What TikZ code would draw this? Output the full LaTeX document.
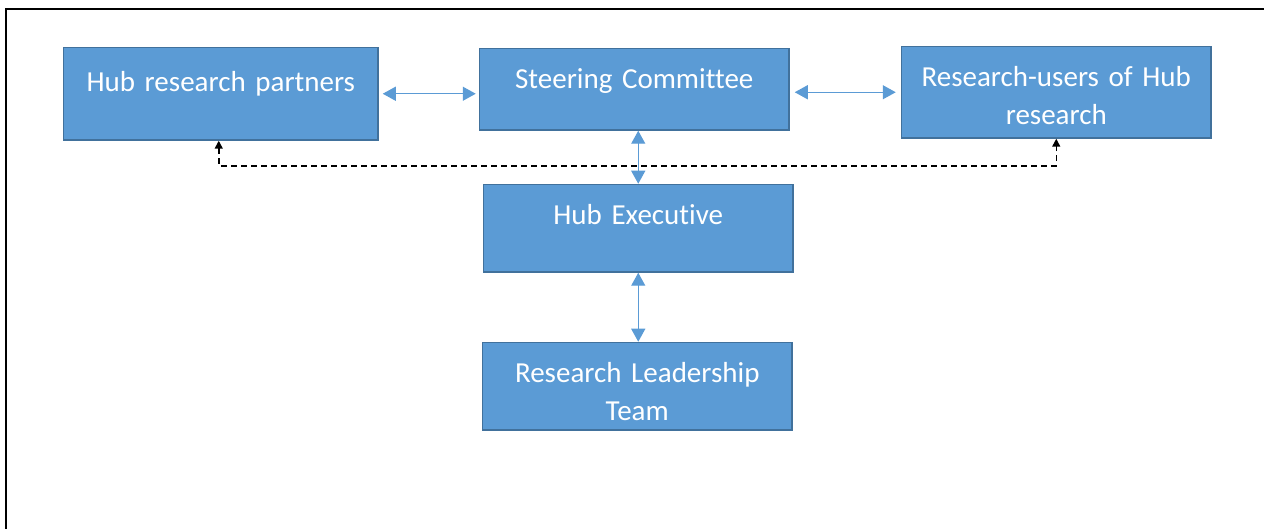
\documentclass[tikz,border=0pt]{standalone}
\usepackage{fontspec}
\setmainfont{Carlito}[RawFeature={-liga;-clig;-calt;-dlig}]
\usepackage{xcolor}
\usetikzlibrary{positioning,calc,arrows.meta}
\definecolor{hubfill}{HTML}{5B9BD5}
\definecolor{hubline}{HTML}{41719C}
\tikzset{
  figfont/.style={font=\fontsize{29}{38}\selectfont},
  hubbox/.style={draw=hubline, line width=1.5pt, fill=hubfill, text=white, align=center,
    text width=309.5pt, inner xsep=0pt, inner ysep=0pt, text height=40pt, anchor=north west},
  hubarrow/.style={{Triangle[length=13pt,width=14pt]}-{Triangle[length=13pt,width=14pt]},
    draw=hubfill, line width=1.3pt},
  dasharrow/.style={{Triangle[length=8pt,width=8pt]}-{Triangle[length=8pt,width=8pt]},
    dash pattern=on 6pt off 4pt, line width=1.5pt},
}

\begin{document}
\begin{tikzpicture}[figfont, x=1pt, y=-1pt]
  \useasboundingbox (0,0) rectangle (1264,529);
  % Frame
  \draw[line width=2.5pt] (6,529) -- (6,9) -- (1264,9);

  % Boxes
  \node[hubbox, text width=314.5pt, text height=44.5pt, text depth=48pt] (partners) at (62.75,46.75) {Hub research partners};
  \node[hubbox, text depth=41.5pt] (steer) at (478.75,47.75) {Steering Committee};
  \node[hubbox, text depth=51.5pt] (users) at (900.75,45.75) {Research-users of Hub\\research};
  \node[hubbox, text depth=47.5pt] (exec) at (482.75,183.75) {Hub Executive};
  \node[hubbox, text depth=47.5pt] (rlt) at (481.75,341.75) {Research Leadership\\Team};
  \coordinate (dashy) at (0,166);

  % Arrows
  \draw[hubarrow] ([xshift=4pt]partners.east) -- ([xshift=-3pt]partners.east -| steer.west);
  \draw[hubarrow] ([xshift=5pt]steer.east |- users.west) -- ([xshift=-5pt]users.west);
  \draw[hubarrow] (exec.north |- steer.south) -- (exec.north);
  \draw[hubarrow] (exec.south) -- (exec.south |- rlt.north);

  % Dashed link
  \draw[dasharrow] ([xshift=-2pt]partners.south) |- (dashy -| users.south) -- (users.south);
\end{tikzpicture}
\end{document}
